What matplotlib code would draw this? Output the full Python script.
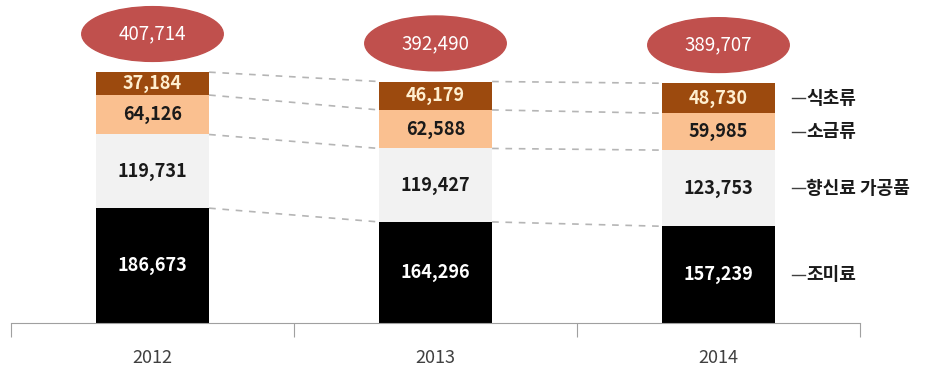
import matplotlib.pyplot as plt
import numpy as np
from matplotlib.patches import Ellipse

plt.rcParams['font.family'] = ['Noto Sans CJK KR', 'DejaVu Sans']

# Data
years = ['2012', '2013', '2014']
seasoning = [186673, 164296, 157239]      # 조미료
spice = [119731, 119427, 123753]          # 향신료 가공품
salt = [64126, 62588, 59985]              # 소금류
vinegar = [37184, 46179, 48730]           # 식초류
totals = [407714, 392490, 389707]
series_names = ['조미료', '향신료 가공품', '소금류', '식초류']

series = [seasoning, spice, salt, vinegar]
colors = ['#000000', '#F2F2F2', '#FAC090', '#9C4A0E']
text_colors = ['white', '#1a1a1a', '#1a1a1a', '#FFEFD0']

fig = plt.figure(figsize=(9.28, 3.7), dpi=100)
ax = fig.add_axes([11 / 928, 47 / 370, 849 / 928, 323 / 370])

x = np.arange(len(years))
width = 0.4
bottoms = np.zeros(len(years))
bounds = []  # top of each segment per bar

for vals, col, tcol in zip(series, colors, text_colors):
    vals = np.array(vals)
    ax.bar(x, vals, width, bottom=bottoms, color=col, linewidth=0)
    for xi, b, v in zip(x, bottoms, vals):
        ax.text(xi, b + v / 2, f"{v:,}", ha='center', va='center',
                color=tcol, fontsize=13, fontweight='bold')
    bottoms = bottoms + vals
    bounds.append(bottoms.copy())

# dashed connectors between neighbouring bars
for top in bounds:
    for i in range(len(x) - 1):
        ax.plot([x[i] + width / 2, x[i + 1] - width / 2], [top[i], top[i + 1]],
                color='#B5B5B5', linestyle=(0, (4, 4)), linewidth=1.2)

# total ellipses
for xi, t in zip(x, totals):
    cy = t + 62000
    ax.add_patch(Ellipse((xi, cy), 0.5, 89000, color='#C0504D', zorder=3))
    ax.text(xi, cy, f"{t:,}", ha='center', va='center', color='white',
            fontsize=13.5, zorder=4)

# series labels with leader lines at the last bar
last = len(x) - 1
base = 0
for vals, name in zip(series, series_names):
    mid = base + vals[last] / 2
    ax.plot([x[last] + 0.26, x[last] + 0.305], [mid, mid], color='#404040',
            linewidth=1, clip_on=False)
    ax.text(x[last] + 0.31, mid, name, ha='left', va='center', fontsize=13,
            fontweight='bold', color='#1a1a1a', clip_on=False)
    base += vals[last]

ax.set_xlim(-0.5, 2.5)
ax.set_ylim(0, 525000)
for s in ['top', 'right', 'left']:
    ax.spines[s].set_visible(False)
ax.spines['bottom'].set_color('#A0A0A0')
ax.set_yticks([])
ax.set_xticks([-0.5, 0.5, 1.5, 2.5])
ax.set_xticklabels([])
ax.tick_params(axis='x', which='major', length=10, color='#A0A0A0', direction='out')
ax.set_xticks(x, minor=True)
ax.set_xticklabels(years, minor=True, fontsize=13, color='#404040')
ax.tick_params(axis='x', which='minor', length=0, pad=19)

fig.savefig('out.png', dpi=100)
